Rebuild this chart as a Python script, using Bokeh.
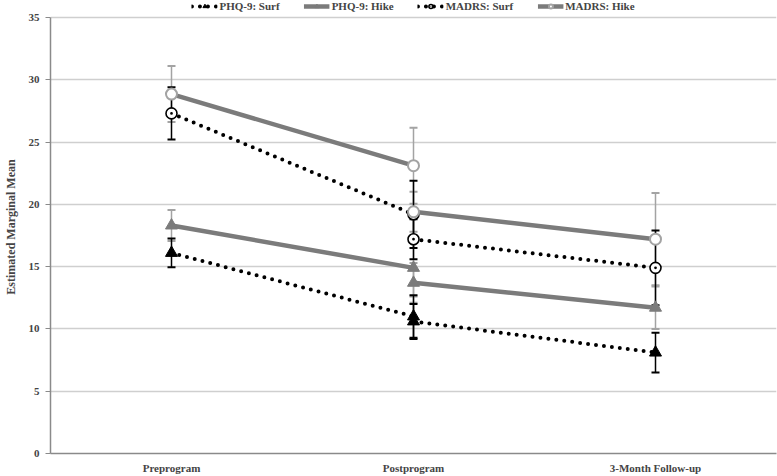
from bokeh.plotting import figure
from bokeh.models import ColumnDataSource, Legend, LegendItem, FixedTicker
from bokeh.embed import file_html
from bokeh.resources import INLINE

# ---------------- data ----------------
categories = ["Preprogram", "Postprogram", "3-Month Follow-up"]
series_names = ["PHQ-9: Surf", "PHQ-9: Hike", "MADRS: Surf", "MADRS: Hike"]

# segment 1 = Preprogram -> Postprogram, segment 2 = Postprogram -> 3-Month Follow-up
phq_surf_seg1 = [16.1, 11.0]
phq_surf_seg2 = [10.6, 8.1]
phq_hike_seg1 = [18.3, 14.9]
phq_hike_seg2 = [13.7, 11.7]
madrs_surf_seg1 = [27.3, 19.2]
madrs_surf_seg2 = [17.2, 14.9]
madrs_hike_seg1 = [28.85, 23.1]
madrs_hike_seg2 = [19.4, 17.2]

# half-widths of error bars
phq_surf_err1 = [1.15, 1.7]
phq_surf_err2 = [1.4, 1.6]
phq_hike_err1 = [1.25, 2.3]
phq_hike_err2 = [1.6, 1.7]
madrs_surf_err1 = [2.1, 2.7]
madrs_surf_err2 = [1.6, 3.0]
madrs_hike_err1 = [2.25, 3.05]
madrs_hike_err2 = [1.6, 3.7]

y_ticks = [0, 5, 10, 15, 20, 25, 30, 35]

FONT = "Liberation Serif"
GRAY = "#7b7b7b"
LIGHT = "#a3a3a3"

p = figure(width=777, height=476, x_range=categories, y_range=(0, 36.36),
           output_backend="svg", toolbar_location=None,
           min_border_left=41, min_border_right=1, min_border_top=0, min_border_bottom=0)
p.outline_line_color = None
p.background_fill_color = "white"
p.border_fill_color = "white"

# axes
p.yaxis.ticker = FixedTicker(ticks=y_ticks)
p.yaxis.bounds = (0, 35)
p.yaxis.axis_label = "Estimated Marginal Mean"
p.yaxis.axis_label_text_font = FONT
p.yaxis.axis_label_text_font_style = "bold"
p.yaxis.axis_label_text_font_size = "12px"
p.yaxis.axis_label_standoff = 8
p.yaxis.major_label_text_font = FONT
p.yaxis.major_label_text_font_style = "bold"
p.yaxis.major_label_text_font_size = "11px"
p.yaxis.major_label_standoff = 6
p.yaxis.axis_line_color = "#8a8a8a"
p.yaxis.axis_line_width = 1.5
p.yaxis.major_tick_line_color = "#8a8a8a"
p.yaxis.major_tick_out = 5
p.yaxis.major_tick_in = 0
p.yaxis.minor_tick_line_color = None

p.xaxis.major_label_text_font = FONT
p.xaxis.major_label_text_font_style = "bold"
p.xaxis.major_label_text_font_size = "11px"
p.xaxis.major_label_standoff = 8
p.xaxis.major_tick_out = 0
p.xaxis.major_tick_in = 0
p.xaxis.axis_line_color = "#8a8a8a"
p.xaxis.axis_line_width = 1.5
p.xaxis.major_tick_line_color = None
p.xaxis.minor_tick_line_color = None

p.xgrid.grid_line_color = None
p.ygrid.grid_line_color = "#cfcfcf"
p.ygrid.grid_line_width = 1.3

seg1_x = categories[0:2]
seg2_x = categories[1:3]


def errorbars(x, vals, errs, color):
    lo = [v - e for v, e in zip(vals, errs)]
    hi = [v + e for v, e in zip(vals, errs)]
    src = ColumnDataSource(dict(x=list(x), lo=lo, hi=hi))
    p.segment(x0="x", y0="lo", x1="x", y1="hi", source=src, line_color=color, line_width=1.5)
    p.scatter(x="x", y="lo", source=src, marker="dash", size=8, line_color=color, line_width=2)
    p.scatter(x="x", y="hi", source=src, marker="dash", size=8, line_color=color, line_width=2)


# error bars (gray first, black on top)
errorbars(seg1_x, madrs_hike_seg1, madrs_hike_err1, LIGHT)
errorbars(seg2_x, madrs_hike_seg2, madrs_hike_err2, LIGHT)
errorbars(seg1_x, phq_hike_seg1, phq_hike_err1, LIGHT)
errorbars(seg2_x, phq_hike_seg2, phq_hike_err2, LIGHT)
errorbars(seg1_x, madrs_surf_seg1, madrs_surf_err1, "black")
errorbars(seg2_x, madrs_surf_seg2, madrs_surf_err2, "black")
errorbars(seg1_x, phq_surf_seg1, phq_surf_err1, "black")
errorbars(seg2_x, phq_surf_seg2, phq_surf_err2, "black")

legend_items = []


def series(name, seg1, seg2, line_kw, marker_kw):
    rends = []
    for xs, ys in ((seg1_x, seg1), (seg2_x, seg2)):
        src = ColumnDataSource(dict(x=list(xs), y=ys))
        l = p.line(x="x", y="y", source=src, **line_kw)
        m = p.scatter(x="x", y="y", source=src, **marker_kw)
        rends.append((l, m))
    legend_items.append(LegendItem(label=name, renderers=[rends[0][0], rends[0][1]]))


dotted = dict(line_color="black", line_width=4, line_dash="0 8", line_cap="round")
solid = dict(line_color=GRAY, line_width=4.5)

series(series_names[0], phq_surf_seg1, phq_surf_seg2, dotted,
       dict(marker="triangle", size=12, fill_color="black", line_color="black"))
series(series_names[1], phq_hike_seg1, phq_hike_seg2, solid,
       dict(marker="triangle", size=12, fill_color=GRAY, line_color=GRAY))
series(series_names[2], madrs_surf_seg1, madrs_surf_seg2, dotted,
       dict(marker="circle_dot", size=11, fill_color="white", line_color="black", line_width=1.6))
series(series_names[3], madrs_hike_seg1, madrs_hike_seg2, solid,
       dict(marker="circle", size=11, fill_color="white", line_color=LIGHT, line_width=2))

legend = Legend(items=legend_items, orientation="horizontal", location="top_center")
legend.label_text_font = FONT
legend.label_text_font_style = "bold"
legend.label_text_font_size = "11px"
legend.glyph_width = 26
legend.glyph_height = 10
legend.label_standoff = 2
legend.spacing = 24
legend.padding = 0
legend.margin = 0
legend.border_line_color = None
legend.background_fill_alpha = 0
legend.label_height = 10
p.add_layout(legend, "center")

open("out.html", "w").write(file_html(p, INLINE))
